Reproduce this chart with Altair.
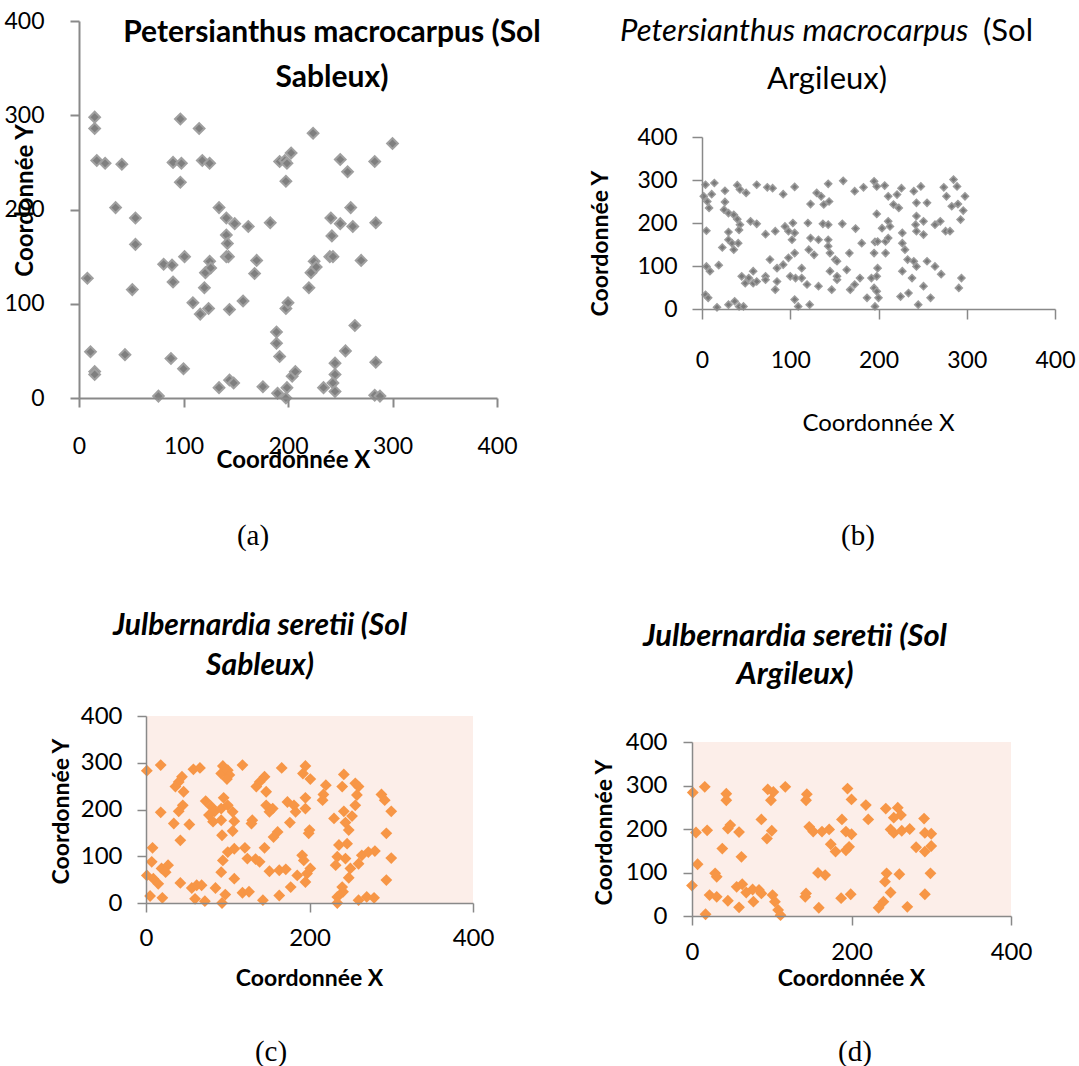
import altair as alt
import pandas as pd

# ---------------- data ----------------
# (a) Petersianthus macrocarpus, sol sableux
a_x = [15, 15, 8, 11, 15, 15, 17, 25, 41, 35, 54, 54, 51, 44, 76, 81, 89, 90, 88, 90,
       97, 98, 97, 101, 100, 109, 115, 118, 116, 120, 121, 125, 126, 125, 124, 134, 134, 141, 141, 142,
       141, 143, 144, 144, 148, 149, 157, 162, 168, 170, 176, 183, 189, 189, 192, 190, 192, 197, 199, 198,
       203, 198, 200, 199, 198, 204, 207, 220, 222, 225, 227, 224, 234, 241, 242, 240, 243, 245, 245, 243,
       245, 250, 250, 257, 260, 262, 264, 255, 270, 283, 284, 284, 283, 288, 300]
a_y = [298, 286, 127, 49, 28, 25, 252, 249, 248, 202, 191, 163, 115, 46, 2, 142, 141, 123, 42, 250,
       296, 249, 229, 150, 31, 101, 286, 252, 89, 117, 133, 145, 138, 249, 95, 202, 11, 191, 173, 164,
       150, 150, 94, 19, 16, 185, 103, 182, 132, 146, 12, 186, 70, 58, 44, 5, 251, 252, 249, 230,
       260, 95, 101, 11, 0, 23, 28, 117, 133, 145, 139, 281, 11, 191, 172, 150, 150, 37, 25, 16,
       7, 253, 185, 240, 202, 182, 77, 50, 146, 251, 186, 38, 3, 2, 270]

# (b) Petersianthus macrocarpus, sol argileux
b_x = [4, 14, 26, 40, 43, 50, 62, 74, 80, 92, 105, 2, 11, 6, 8, 26, 25, 30, 36, 40,
       43, 42, 55, 62, 5, 30, 30, 34, 41, 23, 36, 72, 83, 94, 103, 98, 102, 105, 120, 123,
       130, 135, 143, 138, 144, 137, 143, 123, 132, 143, 143, 121, 127, 145, 5, 19, 9, 45, 53, 58,
       49, 58, 62, 72, 77, 85, 92, 98, 105, 100, 106, 113, 113, 119, 83, 85, 72, 132, 145, 147,
       153, 4, 7, 17, 30, 37, 42, 47, 105, 109, 122, 151,
       160, 173, 183, 195, 198, 207, 211, 221, 226, 217, 223, 198, 159, 174, 211, 213, 204, 227, 240, 248,
       243, 255, 243, 242, 251, 243, 251, 264, 270, 276, 281, 274, 285, 289, 277, 283, 290, 298, 296, 293,
       181, 196, 199, 208, 211, 227, 230, 167, 195, 208, 233, 240, 243, 255, 264, 271, 153, 164, 153, 179,
       173, 168, 192, 199, 198, 227, 238, 195, 198, 187, 200, 196, 225, 234, 251, 259, 245, 291, 294]
b_y = [289, 293, 275, 288, 278, 270, 289, 283, 281, 267, 284, 262, 267, 250, 235, 249, 231, 223, 219, 209,
       196, 184, 204, 198, 182, 179, 161, 153, 153, 143, 138, 174, 181, 192, 200, 181, 161, 177, 200, 244,
       270, 262, 291, 243, 250, 198, 196, 165, 161, 161, 146, 138, 126, 130, 99, 102, 88, 76, 72, 88,
       60, 60, 64, 76, 115, 95, 103, 119, 130, 76, 72, 95, 72, 57, 45, 64, 68, 53, 88, 45,
       68, 33, 26, 4, 10, 18, 6, 6, 22, 6, 10, 115,
       298, 274, 283, 297, 285, 287, 262, 266, 281, 243, 235, 221, 198, 187, 204, 192, 188, 177, 274, 285,
       247, 247, 216, 196, 204, 181, 173, 196, 204, 181, 181, 283, 301, 285, 262, 239, 244, 262, 229, 208,
       153, 156, 157, 157, 165, 153, 138, 130, 130, 130, 115, 111, 99, 111, 99, 81, 111, 91, 76, 72,
       57, 45, 72, 95, 76, 88, 72, 49, 41, 26, 26, 6, 29, 37, 53, 26, 10, 49, 72]

# (c) Julbernardia seretii, sol sableux
c_x = [1, 18, 58, 66, 94, 92, 100, 102, 99, 118, 44, 40, 36, 46, 18, 45, 40, 34, 53, 42,
       73, 80, 84, 77, 82, 95, 92, 100, 106, 108, 106, 93, 92, 145, 139, 135, 147, 147, 151, 155,
       129, 130, 161, 156, 166, 176, 173, 181, 183, 195, 195, 195, 192, 201, 200, 199, 220, 217, 216, 242,
       240, 230, 242, 244, 248, 252, 256, 258, 256, 260, 288, 292, 300, 294, 300, 294, 8, 7, 1, 9,
       15, 19, 27, 24, 5, 20, 42, 56, 62, 68, 60, 72, 85, 97, 93, 92, 94, 100, 108, 108,
       121, 124, 134, 139, 145, 118, 126, 143, 151, 163, 171, 163, 177, 185, 191, 193, 195, 197, 201, 234,
       232, 236, 246, 244, 250, 248, 241, 234, 234, 260, 264, 272, 280, 260, 270, 279, 240]
c_y = [283, 295, 286, 289, 293, 277, 284, 274, 265, 295, 270, 259, 249, 238, 194, 209, 196, 170, 168, 134,
       218, 206, 196, 188, 174, 225, 202, 209, 195, 175, 154, 145, 177, 270, 259, 249, 238, 209, 195, 202,
       170, 177, 152, 141, 289, 172, 216, 209, 195, 225, 202, 293, 277, 265, 156, 149, 252, 232, 220, 275,
       249, 181, 196, 172, 156, 186, 209, 231, 256, 249, 232, 220, 196, 149, 96, 49, 118, 88, 59, 52,
       41, 74, 81, 66, 15, 11, 43, 32, 38, 38, 9, 4, 32, 18, 0, 66, 91, 109, 116, 52,
       118, 95, 94, 88, 118, 22, 24, 6, 68, 70, 72, 16, 34, 59, 102, 91, 45, 63, 74, 99,
       81, 124, 127, 95, 74, 54, 24, 13, 0, 84, 102, 109, 111, 6, 13, 11, 34]

# (d) Julbernardia seretii, sol argileux
d_x = [1, 16, 43, 43, 95, 102, 99, 117, 144, 143, 195, 200, 218, 221, 243, 258, 253, 262, 188, 291,
       87, 5, 19, 45, 48, 59, 100, 94, 38, 62, 7, 29, 31, 0, 22, 31, 45, 17, 56, 63,
       68, 76, 84, 87, 77, 59, 101, 104, 108, 111, 147, 152, 163, 172, 174, 180, 193, 200, 193, 197,
       143, 142, 158, 167, 159, 187, 199, 249, 253, 263, 273, 292, 300, 281, 292, 300, 244, 242, 260, 249,
       234, 240, 270, 292, 299]
d_y = [284, 297, 281, 266, 291, 285, 266, 297, 280, 266, 293, 268, 255, 222, 247, 249, 226, 232, 222, 224,
       222, 192, 197, 201, 209, 193, 196, 178, 155, 136, 119, 98, 90, 70, 48, 44, 35, 4, 67, 73,
       54, 61, 60, 52, 33, 20, 48, 33, 14, 2, 205, 194, 194, 199, 165, 148, 194, 188, 151, 159,
       52, 44, 99, 94, 19, 41, 50, 199, 191, 196, 200, 191, 189, 158, 148, 161, 98, 79, 96, 54,
       19, 33, 21, 50, 98]

titles_a = ["Petersianthus macrocarpus (Sol", "Sableux)"]
titles_b = ["Petersianthus macrocarpus", "(Sol", "Argileux)"]
titles_c = ["Julbernardia seretii (Sol", "Sableux)"]
titles_d = ["Julbernardia seretii (Sol", "Argileux)"]
captions = ["(a)", "(b)", "(c)", "(d)"]
x_title = "Coordonnée X"
y_title = "Coordonnée Y"
ticks_a = [0, 100, 200, 300, 400]
ticks_c = [0, 200, 400]

# ---------------- layout ----------------
W, H = 1079, 1066
GRAY = "#898989"
ORANGE = "#F79646"
BG = "#FCEEE9"
FONT = "Lato"


def panel(xs, ys, xr, yr, xticks, color, size, xa, ya, bg=None, stroke=None, sw=0):
    df = pd.DataFrame({"x": xs, "y": ys})
    sx = alt.Scale(domain=[0, 400], range=xr, nice=False, zero=False)
    sy = alt.Scale(domain=[0, 400], range=yr, nice=False, zero=False)
    common = dict(grid=False, domainColor=GRAY, tickColor=GRAY, labelColor="#000000",
                  titleColor="#000000", labelFont=FONT, titleFont=FONT, labelFlush=False,
                  labelOverlap=False, zindex=1)
    ax_x = alt.Axis(values=xticks, orient="bottom", offset=yr[0] - H, labelBaseline="middle",
                    titleBaseline="middle", titleAlign="center", title=x_title, **common, **xa)
    ax_y = alt.Axis(values=ticks_a, orient="left", offset=-xr[0], labelAlign="right",
                    labelBaseline="middle", titleAngle=270, titleBaseline="middle",
                    titleAlign="center", title=y_title, **common, **ya)
    layers = []
    if bg is not None:
        bdf = pd.DataFrame({"x0": [0], "x1": [400], "y0": [0], "y1": [400]})
        layers.append(alt.Chart(bdf).mark_rect(color=bg).encode(
            x=alt.X("x0:Q", scale=sx, axis=None),
            x2="x1:Q",
            y=alt.Y("y0:Q", scale=sy, axis=None),
            y2="y1:Q",
        ))
    mk = dict(shape="diamond", filled=True, size=size, fill=color, opacity=1)
    if stroke is not None:
        mk.update(stroke=stroke, strokeWidth=sw)
    else:
        mk.update(strokeWidth=0)
    layers.append(alt.Chart(df).mark_point(**mk).encode(
        x=alt.X("x:Q", scale=sx, axis=ax_x),
        y=alt.Y("y:Q", scale=sy, axis=ax_y),
    ))
    return layers


anno = pd.DataFrame({"k": [0]})


def txt(s, x, y, size, weight="normal", style="normal", font=FONT, align="center"):
    return alt.Chart(anno).mark_text(
        x=x, y=y, fontSize=size, fontWeight=weight, fontStyle=style, font=font,
        align=align, baseline="middle", color="#000000"
    ).encode(text=alt.value(s))


pa = panel(a_x, a_y, [79, 497], [398, 21], ticks_a, "#7F7F7F", 115,
           dict(domainWidth=2, tickWidth=2, tickSize=9, labelFontSize=23, labelPadding=39,
                titleFontSize=24, titleFontWeight="bold", titleX=293, titleY=62),
           dict(domainWidth=2, tickWidth=2, tickSize=9, labelFontSize=23, labelPadding=26,
                titleFontSize=24, titleFontWeight="bold", titleX=-54, titleY=200),
           stroke="#A0A0A0", sw=2)
pb = panel(b_x, b_y, [702, 1055], [309, 137], ticks_a, "#7A7A7A", 50,
           dict(domainWidth=1.5, tickWidth=1.5, tickSize=10, labelFontSize=23, labelPadding=41,
                titleFontSize=24, titleFontWeight="normal", titleX=878, titleY=114),
           dict(domainWidth=1.5, tickWidth=1.5, tickSize=10, labelFontSize=23, labelPadding=15,
                titleFontSize=23, titleFontWeight="bold", titleX=-102, titleY=243),
           stroke="#9C9C9C", sw=1.5)
pc = panel(c_x, c_y, [146, 473], [903, 716], ticks_c, ORANGE, 140,
           dict(domainWidth=1.5, tickWidth=1.5, tickSize=9, labelFontSize=24, labelPadding=26,
                titleFontSize=23, titleFontWeight="bold", titleX=309, titleY=75),
           dict(domainWidth=1.5, tickWidth=1.5, tickSize=9, labelFontSize=24, labelPadding=15,
                titleFontSize=23, titleFontWeight="bold", titleX=-85, titleY=811),
           bg=BG)
pd_ = panel(d_x, d_y, [692, 1011], [916, 742], ticks_c, ORANGE, 140,
            dict(domainWidth=1.5, tickWidth=1.5, tickSize=9, labelFontSize=24, labelPadding=27,
                 titleFontSize=23, titleFontWeight="bold", titleX=851, titleY=62),
            dict(domainWidth=1.5, tickWidth=1.5, tickSize=9, labelFontSize=24, labelPadding=16,
                 titleFontSize=23, titleFontWeight="bold", titleX=-88, titleY=832),
            bg=BG)

texts = [
    txt(titles_a[0], 332, 33, 30, weight="bold"),
    txt(titles_a[1], 332, 78, 30, weight="bold"),
    txt(titles_b[0], 620, 32, 31, style="italic", align="left"),
    txt(titles_b[1], 1033, 32, 31, align="right"),
    txt(titles_b[2], 827, 80, 31),
    txt(titles_c[0], 260, 626, 30, weight="bold", style="italic"),
    txt(titles_c[1], 260, 666, 30, weight="bold", style="italic"),
    txt(titles_d[0], 795, 637, 31, weight="bold", style="italic"),
    txt(titles_d[1], 795, 675, 31, weight="bold", style="italic"),
    txt(captions[0], 253, 536, 29, font="Liberation Serif"),
    txt(captions[1], 858, 536, 29, font="Liberation Serif"),
    txt(captions[2], 271, 1052, 29, font="Liberation Serif"),
    txt(captions[3], 855, 1052, 29, font="Liberation Serif"),
]

chart = alt.layer(*pa, *pb, *pc, *pd_, *texts).resolve_scale(
    x="independent", y="independent"
).properties(
    width=W, height=H, padding=0, autosize=alt.AutoSizeParams(type="none"),
    background="white",
).configure_view(strokeWidth=0)

chart.save("out.html", embed_options={"renderer": "svg", "actions": False})
